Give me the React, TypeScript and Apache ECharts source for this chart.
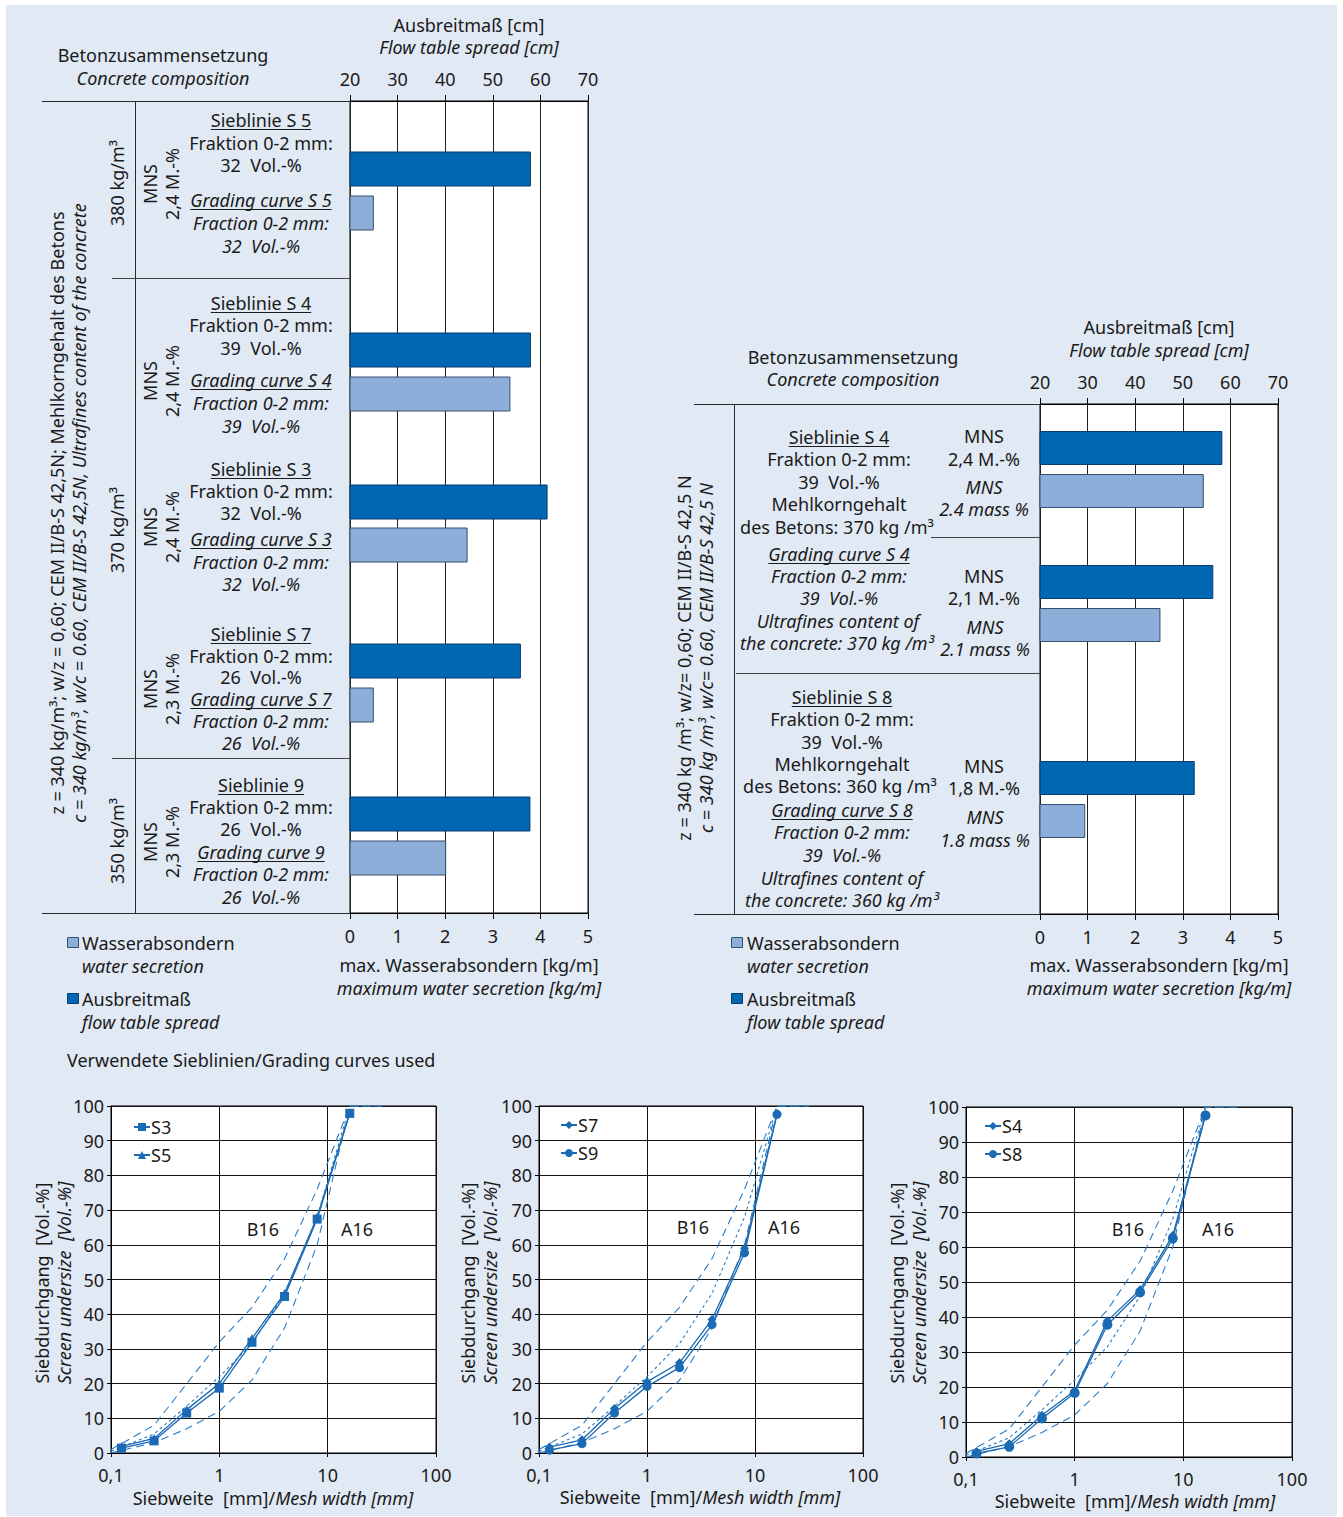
import React, { useEffect, useRef } from "react";
import * as echarts from "echarts";

// ---------------- data ----------------
const flowTicks = [20, 30, 40, 50, 60, 70]; // cm (top axis)
const waterTicks = [0, 1, 2, 3, 4, 5]; // kg/m (bottom axis)

// left chart (MNS, mixes S5, S4, S3, S7, 9)
const leftMixes = ["S 5", "S 4", "S 3", "S 7", "9"];
const leftFractionVol = ["32", "39", "32", "26", "26"];
const leftMnsLabels = ["2,4 M.-%", "2,4 M.-%", "2,4 M.-%", "2,3 M.-%", "2,3 M.-%"];
const leftBinder = ["380 kg/m³", "370 kg/m³", "350 kg/m³"];
const leftFlowSpread = [57.9, 57.9, 61.4, 55.8, 57.8];
const leftWaterSecretion = [0.49, 3.36, 2.46, 0.49, 2.01];

// right chart (S4 with 2,4 / 2,1 M.-% MNS, S8)
const rightMixes = ["S 4 / 2,4 M.-%", "S 4 / 2,1 M.-%", "S 8 / 1,8 M.-%"];
const rightFlowSpread = [58.2, 56.3, 52.4];
const rightWaterSecretion = [3.43, 2.52, 0.94];

// grading curves
const sieveSizes = [0.125, 0.25, 0.5, 1, 2, 4, 8, 16];
const curveS3 = [1.4, 3.5, 11.5, 18.7, 31.9, 45.1, 67.4, 97.9];
const curveS5 = [1.9, 4.2, 12.5, 20.0, 33.0, 46.0, 68.0, 98.0];
const curveS7 = [1.7, 3.8, 12.8, 20.5, 26.0, 38.5, 59.0, 97.8];
const curveS9 = [0.8, 2.7, 11.5, 19.2, 24.6, 37.0, 57.7, 97.6];
const curveS4 = [1.6, 3.8, 11.9, 18.9, 38.9, 47.8, 63.3, 97.8];
const curveS8 = [1.0, 2.9, 11.0, 18.3, 37.8, 47.0, 62.4, 97.6];
const limitSizes = [0.1, 0.25, 0.5, 1, 2, 4, 8, 16, 31.5];
const limitA16 = [0, 3, 7, 12, 21, 36, 60, 100, 100];
const limitB16 = [1, 8, 20, 32, 42, 56, 76, 100, 100];
const limitMid = [0.5, 5.5, 13.5, 22, 31.5, 46, 68, 100, 100];
const meshTickLabels = ["0,1", "1", "10", "100"];

// ---------------- layout / style ----------------
const W = 1343;
const H = 1517;
const BG = "#e1e9f4";
const TXT = "#1a1a1a";
const FONT = '"Noto Sans", "DejaVu Sans", sans-serif';
const DARK = "#0067b2";
const DARK_EDGE = "#0b3c6c";
const LIGHT = "#8daed8";
const LIGHT_EDGE = "#34506f";
const LINE_BLUE = "#1a6ab4";
const REF_BLUE = "#2a7cc6";
const FS = 18;
const FSI = 18;

// bar row centres (in hidden y-axis units = px inside plot)
const leftDarkRow = [68, 249, 401, 560, 713];
const leftLightRow = [112, 293, 444, 604, 757];
const rightDarkRow = [44, 178, 374];
const rightLightRow = [87, 221, 417];

function buildOption() {
  const canvas = document.createElement("canvas");
  const ctx = canvas.getContext("2d") as CanvasRenderingContext2D;
  const measure = (s: string, it: boolean, size: number) => {
    ctx.font = `${it ? "italic " : ""}${size}px ${FONT}`;
    return ctx.measureText(s).width;
  };

  const g: any[] = [];
  const T = (x: number, y: number, s: string, o: any = {}) => {
    const size = o.size || (o.it ? FSI : FS);
    g.push({
      type: "text",
      x,
      y,
      rotation: o.rot ? Math.PI / 2 : 0,
      silent: true,
      z: 10,
      style: {
        text: s,
        fill: TXT,
        fontSize: size,
        fontFamily: FONT,
        fontStyle: o.it ? "italic" : "normal",
        align: o.align || "center",
        verticalAlign: "middle",
      },
    });
    if (o.u) {
      const w = measure(s, !!o.it, size);
      const x0 = (o.align || "center") === "center" ? x - w / 2 : x;
      g.push({
        type: "line",
        silent: true,
        z: 10,
        shape: { x1: x0, y1: y + 9.5, x2: x0 + w, y2: y + 9.5 },
        style: { stroke: TXT, lineWidth: 1 },
      });
    }
  };
  const L = (x1: number, y1: number, x2: number, y2: number, c = "#2a2a2a") =>
    g.push({ type: "line", silent: true, z: 5, shape: { x1, y1, x2, y2 }, style: { stroke: c, lineWidth: 1 } });
  const R = (x: number, y: number, w: number, h: number, fill: string, stroke: string) =>
    g.push({ type: "rect", silent: true, z: 5, shape: { x, y, width: w, height: h }, style: { fill, stroke, lineWidth: 1 } });

  // ---------- left bar chart ----------
  T(163, 55, "Betonzusammensetzung");
  T(163, 78, "Concrete composition", { it: 1 });
  T(469, 25, "Ausbreitmaß [cm]");
  T(469, 47, "Flow table spread [cm]", { it: 1 });
  L(42, 101.5, 350, 101.5);
  L(42, 913.5, 350, 913.5);
  L(135.5, 101, 135.5, 913);
  L(112, 278.5, 350, 278.5, "#444");
  L(112, 758.5, 350, 758.5, "#444");
  T(57, 513, "z = 340 kg/m³; w/z = 0,60; CEM II/B-S 42,5N; Mehlkorngehalt des Betons", { rot: 1 });
  T(79, 513, "c = 340 kg/m³, w/c = 0.60, CEM II/B-S 42,5N, Ultrafines content of the concrete", { rot: 1, it: 1 });
  const binderY = [183, 530, 841];
  leftBinder.forEach((s, i) => T(117, binderY[i], s, { rot: 1 }));
  const mnsY = [184, 381, 527, 689, 842];
  leftMnsLabels.forEach((s, i) => {
    T(150, mnsY[i], "MNS", { rot: 1 });
    T(172, mnsY[i], s, { rot: 1 });
  });
  const blockY = [
    [120, 143, 165, 200, 223, 246],
    [303, 325, 348, 380, 403, 426],
    [469, 491, 513, 539, 562, 584],
    [634, 656, 677, 699, 721, 743],
    [785, 807, 829, 852, 874, 897],
  ];
  leftMixes.forEach((m, i) => {
    const y = blockY[i];
    const de = m === "9" ? "Sieblinie 9" : `Sieblinie ${m}`;
    const en = m === "9" ? "Grading curve 9" : `Grading curve ${m}`;
    T(261, y[0], de, { u: 1 });
    T(261, y[1], "Fraktion 0-2 mm:");
    T(261, y[2], `${leftFractionVol[i]}  Vol.-%`);
    T(261, y[3], en, { it: 1, u: 1 });
    T(261, y[4], "Fraction 0-2 mm:", { it: 1 });
    T(261, y[5], `${leftFractionVol[i]}  Vol.-%`, { it: 1 });
  });
  R(67.5, 937.5, 11, 10, LIGHT, LIGHT_EDGE);
  T(82, 943, "Wasserabsondern", { align: "left" });
  T(82, 966, "water secretion", { align: "left", it: 1 });
  R(67.5, 993.5, 11, 10, DARK, DARK_EDGE);
  T(82, 999, "Ausbreitmaß", { align: "left" });
  T(82, 1022, "flow table spread", { align: "left", it: 1 });
  T(469, 965, "max. Wasserabsondern [kg/m]");
  T(469, 988, "maximum water secretion [kg/m]", { it: 1 });

  // ---------- right bar chart ----------
  T(853, 357, "Betonzusammensetzung");
  T(853, 379, "Concrete composition", { it: 1 });
  T(1159, 327, "Ausbreitmaß [cm]");
  T(1159, 350, "Flow table spread [cm]", { it: 1 });
  L(694, 404.5, 1040, 404.5);
  L(694, 914.5, 1040, 914.5);
  L(734.5, 404, 734.5, 914);
  L(931, 537.5, 1040, 537.5, "#444");
  L(736, 673.5, 1040, 673.5, "#444");
  T(684, 658, "z = 340 kg /m³; w/z= 0,60; CEM II/B-S 42,5 N", { rot: 1 });
  T(706, 658, "c = 340 kg /m³, w/c= 0.60, CEM II/B-S 42,5 N", { rot: 1, it: 1 });
  // block 1
  T(839, 437, "Sieblinie S 4", { u: 1 });
  T(839, 459, "Fraktion 0-2 mm:");
  T(839, 482, "39  Vol.-%");
  T(839, 504, "Mehlkorngehalt");
  T(837, 527, "des Betons: 370 kg /m³");
  T(984, 436, "MNS");
  T(984, 459, "2,4 M.-%");
  T(984, 487, "MNS", { it: 1 });
  T(984, 509, "2.4 mass %", { it: 1 });
  // block 2
  T(839, 554, "Grading curve S 4", { it: 1, u: 1 });
  T(839, 576, "Fraction 0-2 mm:", { it: 1 });
  T(839, 598, "39  Vol.-%", { it: 1 });
  T(838, 621, "Ultrafines content of", { it: 1 });
  T(837, 643, "the concrete: 370 kg /m³", { it: 1 });
  T(984, 576, "MNS");
  T(984, 598, "2,1 M.-%");
  T(985, 627, "MNS", { it: 1 });
  T(985, 649, "2.1 mass %", { it: 1 });
  // block 3
  T(842, 697, "Sieblinie S 8", { u: 1 });
  T(842, 719, "Fraktion 0-2 mm:");
  T(842, 742, "39  Vol.-%");
  T(842, 764, "Mehlkorngehalt");
  T(840, 786, "des Betons: 360 kg /m³");
  T(842, 810, "Grading curve S 8", { it: 1, u: 1 });
  T(842, 832, "Fraction 0-2 mm:", { it: 1 });
  T(842, 855, "39  Vol.-%", { it: 1 });
  T(842, 878, "Ultrafines content of", { it: 1 });
  T(842, 900, "the concrete: 360 kg /m³", { it: 1 });
  T(984, 766, "MNS");
  T(984, 788, "1,8 M.-%");
  T(985, 817, "MNS", { it: 1 });
  T(985, 840, "1.8 mass %", { it: 1 });
  R(731.5, 937.5, 11, 10, LIGHT, LIGHT_EDGE);
  T(747, 943, "Wasserabsondern", { align: "left" });
  T(747, 966, "water secretion", { align: "left", it: 1 });
  R(731.5, 993.5, 11, 10, DARK, DARK_EDGE);
  T(747, 999, "Ausbreitmaß", { align: "left" });
  T(747, 1022, "flow table spread", { align: "left", it: 1 });
  T(1159, 965, "max. Wasserabsondern [kg/m]");
  T(1159, 988, "maximum water secretion [kg/m]", { it: 1 });

  // ---------- grading curves ----------
  T(67, 1060, "Verwendete Sieblinien/Grading curves used", { align: "left" });
  const lc = [
    { yx1: 42, yx2: 64, xt: 273, xty: 1498, b: [263, 1229], a: [357, 1229] },
    { yx1: 468, yx2: 490, xt: 700, xty: 1497, b: [693, 1227], a: [784, 1227] },
    { yx1: 897, yx2: 919, xt: 1135, xty: 1501, b: [1128, 1229], a: [1218, 1229] },
  ];
  lc.forEach((c) => {
    T(c.yx1, 1283, "Siebdurchgang  [Vol.-%]", { rot: 1 });
    T(c.yx2, 1283, "Screen undersize  [Vol.-%]", { rot: 1, it: 1 });
    g.push({
      type: "text",
      x: c.xt,
      y: c.xty,
      silent: true,
      z: 10,
      style: {
        text: "{a|Siebweite  [mm]/}{b|Mesh width [mm]}",
        align: "center",
        verticalAlign: "middle",
        rich: {
          a: { fontSize: FS, fontFamily: FONT, fill: TXT, color: TXT },
          b: { fontSize: FSI, fontFamily: FONT, fontStyle: "italic", fill: TXT, color: TXT },
        },
      },
    });
    T(c.b[0], c.b[1], "B16");
    T(c.a[0], c.a[1], "A16");
  });

  // ---------- axes ----------
  const axisLabel = { color: TXT, fontSize: FS, fontFamily: FONT };
  const barX = (grid: number, pos: string, ticks: number[], split: boolean) => ({
    gridIndex: grid,
    type: "value",
    position: pos,
    min: ticks[0],
    max: ticks[ticks.length - 1],
    interval: ticks[1] - ticks[0],
    axisLine: { show: true, onZero: false, lineStyle: { color: "#000", width: 1 } },
    axisTick: { show: true, length: 6, lineStyle: { color: "#000" } },
    axisLabel: { ...axisLabel, margin: pos === "top" ? 13 : 14 },
    splitLine: { show: split, lineStyle: { color: "#222", width: 1 } },
  });
  const logX = (grid: number) => ({
    gridIndex: grid,
    type: "log",
    logBase: 10,
    min: 0.1,
    max: 100,
    axisLine: { show: true, onZero: false, lineStyle: { color: "#000" } },
    axisTick: { show: true, length: 4, lineStyle: { color: "#000" } },
    axisLabel: {
      ...axisLabel,
      margin: 13,
      formatter: (v: number) => meshTickLabels[Math.round(Math.log10(v)) + 1],
    },
    splitLine: { show: true, lineStyle: { color: "#111", width: 1 } },
  });
  const pctY = (grid: number) => ({
    gridIndex: grid,
    type: "value",
    min: 0,
    max: 100,
    interval: 10,
    axisLine: { show: true, onZero: false, lineStyle: { color: "#000" } },
    axisTick: { show: true, length: 4, lineStyle: { color: "#000" } },
    axisLabel: { ...axisLabel, margin: 7 },
    splitLine: { show: true, lineStyle: { color: "#111", width: 1 } },
  });

  const grids = [
    { left: 350, top: 101, width: 238, height: 812 },
    { left: 1040, top: 404, width: 238, height: 510 },
    { left: 111, top: 1106, width: 325, height: 347 },
    { left: 539, top: 1106, width: 324, height: 347 },
    { left: 966, top: 1107, width: 326, height: 350 },
  ].map((gd) => ({ ...gd, show: true, backgroundColor: "#fff", borderColor: "#000", borderWidth: 1 }));

  const xAxis = [
    barX(0, "bottom", waterTicks, true),
    barX(0, "top", flowTicks, false),
    barX(1, "bottom", waterTicks, true),
    barX(1, "top", flowTicks, false),
    logX(2),
    logX(3),
    logX(4),
  ];
  const yAxis = [
    { gridIndex: 0, type: "value", min: 0, max: 812, inverse: true, show: false },
    { gridIndex: 1, type: "value", min: 0, max: 510, inverse: true, show: false },
    pctY(2),
    pctY(3),
    pctY(4),
  ];

  const barSeries = (
    name: string,
    values: number[],
    rows: number[],
    xi: number,
    yi: number,
    base: number,
    fill: string,
    stroke: string,
    h: number
  ) => ({
    type: "custom",
    name,
    xAxisIndex: xi,
    yAxisIndex: yi,
    clip: false,
    silent: true,
    encode: { x: 0, y: 1 },
    data: values.map((v, i) => [v, rows[i]]),
    renderItem: (_p: any, api: any) => {
      const y = api.value(1);
      const p0 = api.coord([base, y]);
      const p1 = api.coord([api.value(0), y]);
      const hh = api.size([0, h])[1];
      return {
        type: "rect",
        shape: { x: p0[0], y: p0[1] - hh / 2, width: p1[0] - p0[0], height: hh },
        style: { fill, stroke, lineWidth: 1 },
      };
    },
  });

  const lineSeries = (name: string, vals: number[], grid: number, symbol: string, size: number) => ({
    type: "line",
    name,
    xAxisIndex: grid + 4,
    yAxisIndex: grid + 2,
    data: sieveSizes.map((s, i) => [s, vals[i]]),
    symbol,
    symbolSize: size,
    showSymbol: true,
    showAllSymbol: true,
    lineStyle: { color: LINE_BLUE, width: 1.3 },
    itemStyle: { color: LINE_BLUE },
    z: 4,
  });
  const limitSeries = (name: string, vals: number[], grid: number, dash: number[]) => ({
    type: "line",
    name,
    xAxisIndex: grid + 4,
    yAxisIndex: grid + 2,
    data: limitSizes.map((s, i) => [s, vals[i]]),
    symbol: "none",
    lineStyle: { color: REF_BLUE, width: 1.1, type: dash },
    z: 3,
  });

  const series: any[] = [
    barSeries("Ausbreitmaß links", leftFlowSpread, leftDarkRow, 1, 0, 20, DARK, DARK_EDGE, 34),
    barSeries("Wasserabsondern links", leftWaterSecretion, leftLightRow, 0, 0, 0, LIGHT, LIGHT_EDGE, 34),
    barSeries("Ausbreitmaß rechts", rightFlowSpread, rightDarkRow, 3, 1, 20, DARK, DARK_EDGE, 33),
    barSeries("Wasserabsondern rechts", rightWaterSecretion, rightLightRow, 2, 1, 0, LIGHT, LIGHT_EDGE, 33),
  ];
  [0, 1, 2].forEach((gi) => {
    series.push(limitSeries(`A16-${gi}`, limitA16, gi, [8, 5]));
    series.push(limitSeries(`B16-${gi}`, limitB16, gi, [8, 5]));
    series.push(limitSeries(`M16-${gi}`, limitMid, gi, [3, 3]));
  });
  series.push(lineSeries("S3", curveS3, 0, "rect", 9));
  series.push(lineSeries("S5", curveS5, 0, "triangle", 9));
  series.push(lineSeries("S7", curveS7, 1, "diamond", 9));
  series.push(lineSeries("S9", curveS9, 1, "circle", 9));
  series.push(lineSeries("S4", curveS4, 2, "diamond", 9));
  series.push(lineSeries("S8", curveS8, 2, "circle", 10));

  const legendBase = {
    orient: "vertical",
    itemWidth: 16,
    itemHeight: 10,
    itemGap: 10,
    textStyle: { color: TXT, fontSize: FS, fontFamily: FONT, padding: [0, 0, 0, -4] },
    selectedMode: false,
  };
  const legend = [
    { ...legendBase, data: ["S3", "S5"], left: 128, top: 1113 },
    { ...legendBase, data: ["S7", "S9"], left: 555, top: 1111 },
    { ...legendBase, data: ["S4", "S8"], left: 979, top: 1112 },
  ];

  return {
    animation: false,
    backgroundColor: "transparent",
    textStyle: { fontFamily: FONT },
    grid: grids,
    xAxis,
    yAxis,
    legend,
    series,
    graphic: { elements: g },
  };
}

export default function App() {
  const ref = useRef<HTMLDivElement>(null);
  useEffect(() => {
    if (!ref.current) return;
    const chart = echarts.init(ref.current, null, { renderer: "svg", width: W, height: H });
    chart.setOption(buildOption() as any);
    return () => chart.dispose();
  }, []);
  return (
    <div style={{ position: "absolute", left: 0, top: 0, width: W, height: H, background: "#fff" }}>
      <div style={{ position: "absolute", left: 6, top: 5, width: 1331, height: 1511, background: BG }} />
      <div ref={ref} style={{ position: "absolute", left: 0, top: 0, width: W, height: H }} />
    </div>
  );
}
